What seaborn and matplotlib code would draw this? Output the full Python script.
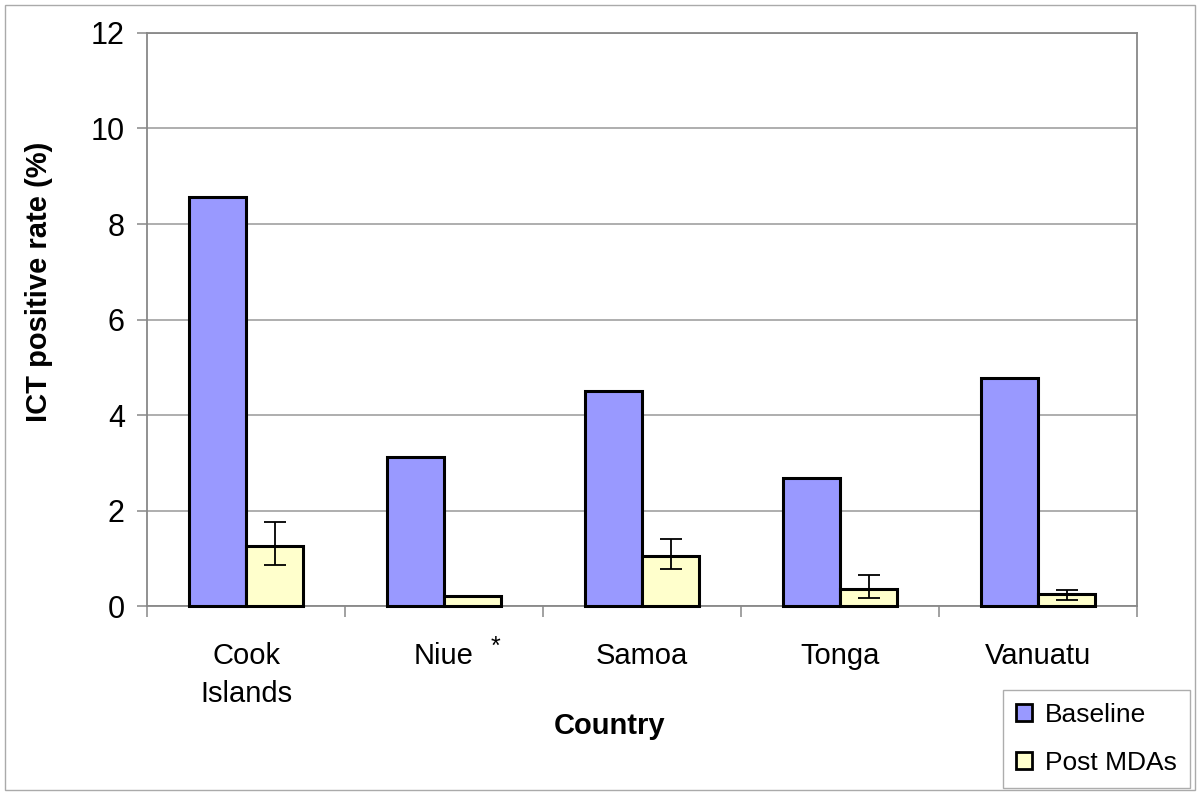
import matplotlib
matplotlib.use("Agg")
import matplotlib.pyplot as plt
from matplotlib.patches import Rectangle, Patch
from matplotlib.ticker import FixedLocator, MultipleLocator
from matplotlib.transforms import ScaledTranslation
import seaborn as sns
import pandas as pd
import numpy as np

countries = ["Cook Islands", "Niue", "Samoa", "Tonga", "Vanuatu"]
tick_labels = ["Cook\nIslands", "Niue", "Samoa", "Tonga", "Vanuatu"]
series_names = ["Baseline", "Post MDAs"]
baseline = [8.57, 3.13, 4.51, 2.68, 4.77]
post_mdas = [1.26, 0.20, 1.05, 0.36, 0.25]
err_low = [0.86, np.nan, 0.78, 0.17, 0.13]
err_high = [1.77, np.nan, 1.40, 0.64, 0.34]
colors = ["#9999FF", "#FFFFCC"]

sns.set_theme(style="white")
plt.rcParams["font.family"] = ["Liberation Sans", "DejaVu Sans"]
plt.rcParams["text.color"] = "black"
plt.rcParams["axes.labelcolor"] = "black"
plt.rcParams["xtick.color"] = "black"
plt.rcParams["ytick.color"] = "black"

df = pd.DataFrame({
    "Country": countries * 2,
    "Rate": baseline + post_mdas,
    "Series": [series_names[0]] * len(countries) + [series_names[1]] * len(countries),
})

fig = plt.figure(figsize=(12, 7.95), dpi=100)
ax = fig.add_axes([0.1225, 0.2377, 0.825, 0.7208])

sns.barplot(data=df, x="Country", y="Rate", hue="Series", order=countries,
            hue_order=series_names, palette=colors, width=0.58, gap=0,
            edgecolor="black", linewidth=2.2, errorbar=None, ax=ax,
            saturation=1, legend=False)
for p in ax.patches:
    p.set_clip_on(False)
    p.set_zorder(3)

# error bars on Post MDAs bars, positioned from the drawn bars
post_container = ax.containers[1]
xs, ys, lo, hi = [], [], [], []
for bar, v, l, h in zip(post_container.patches, post_mdas, err_low, err_high):
    if np.isnan(l):
        continue
    xs.append(bar.get_x() + bar.get_width() / 2)
    ys.append(v)
    lo.append(v - l)
    hi.append(h - v)
ax.errorbar(xs, ys, yerr=[lo, hi], fmt="none", ecolor="black",
            elinewidth=1.3, capsize=8, capthick=1.3, zorder=4)

ax.set_ylim(0, 12)
ax.set_xlim(-0.5, len(countries) - 0.5)
ax.yaxis.set_major_locator(MultipleLocator(2))
ax.yaxis.grid(True, color="#999999", linewidth=1.1, zorder=0)
ax.set_axisbelow(True)
for s in ax.spines.values():
    s.set_color("#888888")
    s.set_linewidth(1.3)
    s.set_visible(True)

ax.set_xticks(range(len(countries)))
ax.set_xticklabels(tick_labels, fontsize=21, linespacing=1.45)
ax.xaxis.set_minor_locator(FixedLocator(np.arange(-0.5, len(countries), 1.0)))
ax.tick_params(axis="x", which="major", length=0, pad=26)
ax.tick_params(axis="x", which="minor", length=8, width=1.1, color="#888888", direction="out", bottom=True)
ax.tick_params(axis="y", which="major", length=7, width=1.1, color="#888888", direction="out",
               labelsize=22, pad=9, left=True)

ax.set_xlabel("Country", fontsize=21, fontweight="bold")
ax.xaxis.set_label_coords(0.467, -0.185)
ax.set_ylabel("ICT positive rate (%)", fontsize=21, fontweight="bold")
ax.yaxis.set_label_coords(-0.095, 0.565)

ax.annotate("*", xy=(1.26, -0.072), xycoords=("data", "axes fraction"),
            fontsize=18, ha="center", va="center")

handles = [Patch(facecolor=c, edgecolor="black", linewidth=2) for c in colors]
leg = fig.legend(handles, series_names, loc="lower right", bbox_to_anchor=(0.992, 0.009),
                 fontsize=19, frameon=True, fancybox=False, edgecolor="#999999",
                 handlelength=0.6, handleheight=0.6, handletextpad=0.5,
                 labelspacing=0.9, borderpad=0.5, borderaxespad=0)
leg.get_frame().set_linewidth(1.0)

fig.patches.append(Rectangle((0.004, 0.006), 0.992, 0.988, transform=fig.transFigure,
                             fill=False, edgecolor="#aaaaaa", linewidth=1.0))

# top tick label sits just below its tick, as in the reference
fig.canvas.draw()
top_label = ax.yaxis.get_major_ticks()[-1].label1
top_label.set_transform(top_label.get_transform() + ScaledTranslation(0, -10 / 72, fig.dpi_scale_trans))

fig.savefig("out.png", dpi=100)
